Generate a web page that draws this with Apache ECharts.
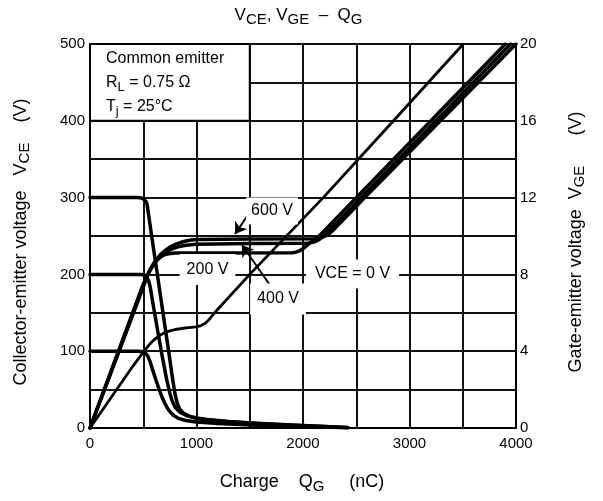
<!DOCTYPE html>
<html>
<head>
<meta charset="utf-8">
<script src="https://cdn.jsdelivr.net/npm/echarts@6/dist/echarts.min.js"></script>
<style>
  html, body { margin: 0; padding: 0; background: #fff; }
  #chart { width: 603px; height: 501px; }
</style>
</head>
<body>
<div id="chart"></div>
<script>
// Collector-emitter voltage during turn-on, [gate charge nC, VCE V]
const vceFrom300 = [[0,300],[440,300],[470,299.7],[495,299],[512,297.5],[525,295],[535,292],[550,278],[580,249],[626,206],[680,155],[734,104],[780,60],[800,43],[820,32],[845,24],[880,19],[930,15.5],[1000,13],[1100,11],[1300,8.5],[1600,6],[1900,4],[2200,2],[2420,0.5]];
const vceFrom200 = [[0,200],[470,200],[500,199.6],[520,198.5],[535,196.5],[550,192],[565,184],[600,155],[640,123],[680,92],[720,63],[750,45],[775,34],[800,27],[840,21],[900,16.5],[1000,12.5],[1100,10.5],[1300,8],[1600,5.5],[1900,3.5],[2200,1.8],[2420,0.4]];
const vceFrom100 = [[0,100],[450,100],[480,99.7],[505,98.8],[525,97],[545,93],[565,86],[590,75],[620,62],[650,50],[680,39],[710,30],[740,23],[780,17],[830,12.5],[900,9.8],[1000,7.8],[1200,5.8],[1500,4],[1800,2.8],[2100,1.5],[2420,0.3]];

// Gate-emitter voltage, [gate charge nC, VGE V]
const vge600 = [[0,0],[300,4.4],[500,7.35],[530,7.8],[560,8.2],[590,8.5],[620,8.75],[660,9.02],[700,9.22],[750,9.42],[800,9.56],[850,9.66],[900,9.74],[950,9.79],[1000,9.82],[1500,9.85],[2100,9.86],[2140,9.88],[2180,9.93],[2210,10.0],[2240,10.1],[2270,10.23],[2300,10.4],[2580,12],[4000,20]];
const vge400 = [[0,0],[300,4.45],[500,7.4],[530,7.82],[560,8.17],[590,8.45],[620,8.68],[660,8.92],[700,9.1],[750,9.27],[800,9.39],[850,9.47],[900,9.52],[1000,9.57],[1500,9.61],[2030,9.62],[2070,9.64],[2100,9.68],[2130,9.75],[2160,9.85],[2190,9.98],[2220,10.13],[3950,20]];
const vge200 = [[0,0],[300,4.5],[480,7.2],[510,7.62],[540,7.98],[570,8.3],[600,8.55],[630,8.75],[660,8.9],[700,9.02],[740,9.08],[800,9.11],[1000,9.12],[1900,9.13],[1935,9.16],[1965,9.22],[1995,9.32],[2025,9.45],[2055,9.6],[2085,9.72],[2115,9.83],[2150,9.99],[3900,20]];
const vgeAtVce0 = [[0,0],[400,3.2],[500,3.95],[540,4.23],[580,4.48],[620,4.68],[660,4.84],[700,4.96],[750,5.06],[800,5.13],[900,5.21],[1000,5.27],[1040,5.33],[1080,5.45],[1110,5.6],[1140,5.8],[1170,6.0],[1500,8.0],[2190,12],[2850,16],[3505,20]];

// Axis ranges and tick labels
const chargeRange = [0, 4000];
const vceRange = [0, 500];
const vgeRange = [0, 20];
const chargeLabels = [0, 1000, 2000, 3000, 4000];
const vceLabels = [0, 100, 200, 300, 400, 500];

const FONT = '"Liberation Sans", Arial, Helvetica, sans-serif';
const chart = echarts.init(document.getElementById('chart'), null, { renderer: 'canvas' });

function curve(data, axis, width) {
  return {
    type: 'line',
    data: data,
    yAxisIndex: axis,
    showSymbol: false,
    symbol: 'none',
    smooth: false,
    silent: true,
    lineStyle: { color: '#000', width: width || 3.5, join: 'round', cap: 'round' },
    emphasis: { disabled: true }
  };
}

const sub = (size) => ({ fontSize: size, fontFamily: FONT, verticalAlign: 'bottom', lineHeight: size, fill: '#000' });

function text(x, y, str, size, opts) {
  return Object.assign({
    type: 'text', x: x, y: y, z: 100, silent: true,
    style: Object.assign({
      text: str, fontSize: size, fontFamily: FONT, fill: '#000',
      align: 'center', verticalAlign: 'middle', lineHeight: size + 7,
      rich: { s: sub(size - 3) }
    }, (opts && opts.style) || {})
  }, (opts && opts.el) || {});
}

const gridLine = { color: '#111', width: 2 };
const axisText = { color: '#000', fontSize: 15, fontFamily: FONT };

const first = curve(vceFrom300, 0);
// condition box in the upper-left corner of the plot
first.markArea = {
  silent: true,
  label: { show: false },
  itemStyle: { color: '#fff', opacity: 1, borderColor: '#000', borderWidth: 2 },
  data: [[{ coord: [0, 400] }, { coord: [1500, 500] }]]
};
// leader arrows for the 600 V and 400 V curves
first.markLine = {
  silent: true,
  symbol: ['none', 'arrow'],
  symbolSize: 11,
  label: { show: false },
  lineStyle: { color: '#000', width: 2, type: 'solid' },
  data: [
    [{ coord: [1500, 281] }, { coord: [1362, 252.6] }],
    [{ coord: [1709, 182.3] }, { coord: [1427, 238.3] }]
  ]
};

const option = {
  animation: false,
  grid: { left: 90, top: 44, width: 426, height: 384, show: true, borderColor: '#000', borderWidth: 2 },
  xAxis: {
    type: 'value', min: chargeRange[0], max: chargeRange[1], interval: 500,
    axisLine: { show: true, lineStyle: { color: '#000', width: 2 } },
    axisTick: { show: false },
    axisLabel: Object.assign({ margin: 8, showMinLabel: true, showMaxLabel: true,
      formatter: v => chargeLabels.includes(v) ? String(v) : '' }, axisText),
    splitLine: { show: true, lineStyle: gridLine }
  },
  yAxis: [
    {
      type: 'value', position: 'left', min: vceRange[0], max: vceRange[1], interval: 50,
      axisLine: { show: true, lineStyle: { color: '#000', width: 2 } },
      axisTick: { show: false },
      axisLabel: Object.assign({ margin: 5, showMinLabel: true, showMaxLabel: true,
        formatter: v => vceLabels.includes(v) ? String(v) : '' }, axisText),
      splitLine: { show: true, lineStyle: gridLine }
    },
    {
      type: 'value', position: 'right', min: vgeRange[0], max: vgeRange[1], interval: 4,
      axisLine: { show: true, lineStyle: { color: '#000', width: 2 } },
      axisTick: { show: false },
      axisLabel: Object.assign({ margin: 4, showMinLabel: true, showMaxLabel: true }, axisText),
      splitLine: { show: false }
    }
  ],
  series: [
    first,
    curve(vceFrom200, 0),
    curve(vceFrom100, 0),
    curve(vge600, 1),
    curve(vge400, 1),
    curve(vge200, 1),
    curve(vgeAtVce0, 1, 2.8)
  ],
  graphic: [
    // title
    text(298.5, 15, 'V{s|CE}, V{s|GE}  –  Q{s|G}', 17, { style: { lineHeight: 24, rich: { s: sub(15) } } }),
    // axis names
    text(302, 482, 'Charge    Q{s|G}     (nC)', 18, { style: { lineHeight: 25 } }),
    text(21, 242, 'Collector-emitter voltage   V{s|CE}    (V)', 18, { el: { rotation: Math.PI / 2 }, style: { lineHeight: 23 } }),
    text(576, 242, 'Gate-emitter voltage  V{s|GE}      (V)', 18, { el: { rotation: Math.PI / 2 }, style: { lineHeight: 23 } }),
    // condition box text
    text(106, 59, 'Common emitter', 16, { style: { align: 'left' } }),
    text(106, 83, 'R{s|L} = 0.75 Ω', 16, { style: { align: 'left', lineHeight: 21 } }),
    text(106, 107, 'T{s|j} = 25°C', 16, { style: { align: 'left', lineHeight: 21 } }),
    // curve annotations
    text(272, 211, '600 V', 16, { style: { backgroundColor: '#fff', padding: [2, 5, 2, 5] } }),
    text(207.5, 269.5, '200 V', 16, { style: { backgroundColor: '#fff', padding: [4, 7, 4, 7] } }),
    text(278, 299, '400 V', 16, { style: { backgroundColor: '#fff', padding: [4, 7, 4, 7] } }),
    text(352.5, 274, 'VCE = 0 V', 16, { style: { backgroundColor: '#fff', padding: [3, 9, 3, 9] } })
  ]
};

chart.setOption(option);
</script>
</body>
</html>
